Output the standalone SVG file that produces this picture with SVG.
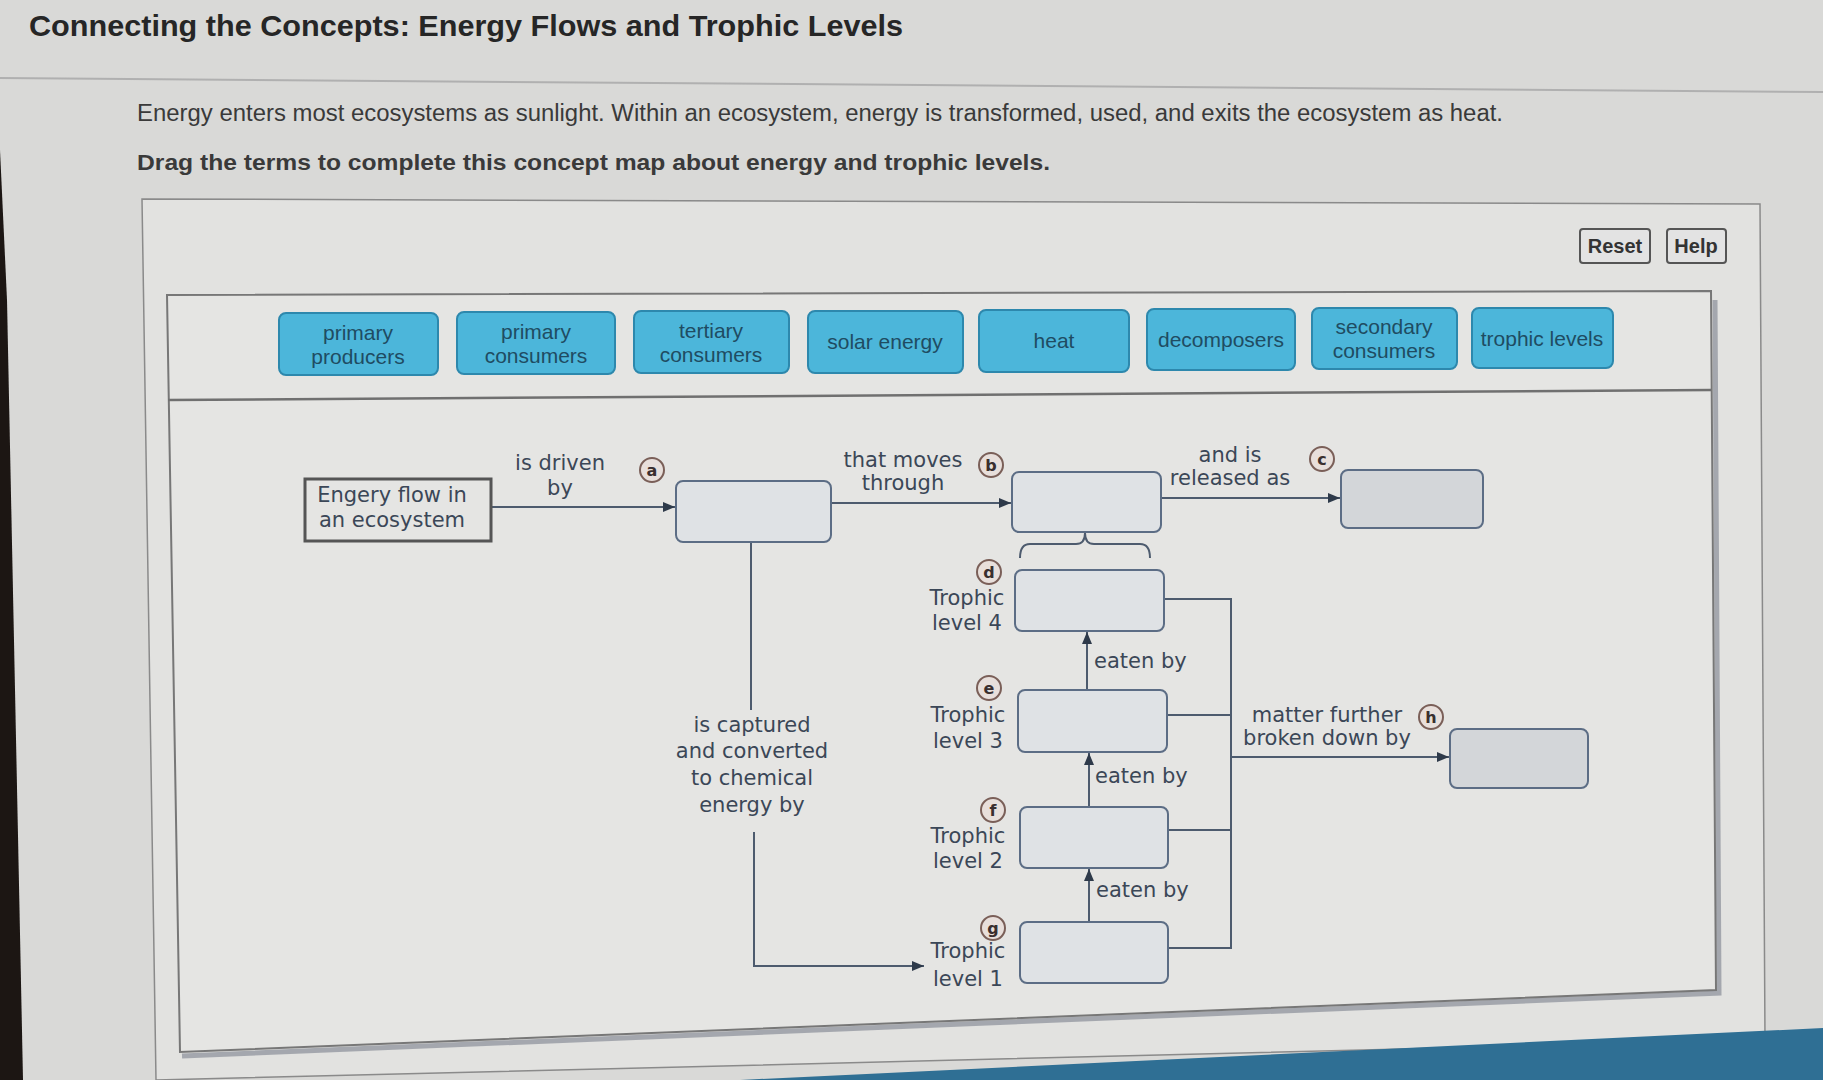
<svg xmlns="http://www.w3.org/2000/svg" width="1823" height="1080" viewBox="0 0 1823 1080">
<defs>
<marker id="arr" viewBox="0 0 12 10" refX="12" refY="5" markerWidth="12" markerHeight="10" markerUnits="userSpaceOnUse" orient="auto"><path d="M0,0 L12,5 L0,10 Z" fill="#2e3a4a"/></marker>
<style>
.title{font-family:"Liberation Sans",Arial,sans-serif;font-weight:bold;font-size:30px;fill:#262626}
.para{font-family:"Liberation Sans",Arial,sans-serif;font-size:23px;fill:#3a3a3a}
.drag{font-family:"Liberation Sans",Arial,sans-serif;font-weight:bold;font-size:22px;fill:#3a3a3a}
.tile rect{fill:#4cb6da;stroke:#2d88ad;stroke-width:2}
.tile text{font-family:"Liberation Sans",Arial,sans-serif;font-size:21px;fill:#1f4c62;text-anchor:middle}
.drop{fill:#dfe2e5;stroke:#5c6d85;stroke-width:2}
.drop2{fill:#d3d6d9;stroke:#5c6d85;stroke-width:2}
.lbl{font-family:"DejaVu Sans",Verdana,sans-serif;font-size:21px;fill:#3b4757;text-anchor:middle}
.lbs{font-family:"DejaVu Sans",Verdana,sans-serif;font-size:21px;fill:#3b4757}
.conn{stroke:#4d5b6e;stroke-width:2;fill:none}
.badge circle{fill:#e8dfdb;stroke:#7a5f58;stroke-width:2}
.badge text{font-family:"DejaVu Sans",sans-serif;font-size:16px;font-weight:bold;fill:#3a2f2f;text-anchor:middle}
.btn rect{fill:#e3e3e3;stroke:#555;stroke-width:2}
.btn text{font-family:"Liberation Sans",Arial,sans-serif;font-weight:bold;font-size:20px;fill:#333;text-anchor:middle}
</style>
</defs>
<rect x="0" y="0" width="1823" height="1080" fill="#d9d9d7"/>
<polygon points="0,150 7,300 23,1080 0,1080" fill="#1c1613"/>
<path d="M0,78 L1823,92" stroke="#b0b0b0" stroke-width="2"/>
<text class="title" x="29" y="36" textLength="874" lengthAdjust="spacingAndGlyphs">Connecting the Concepts: Energy Flows and Trophic Levels</text>
<text class="para" x="137" y="121" textLength="1366" lengthAdjust="spacingAndGlyphs">Energy enters most ecosystems as sunlight. Within an ecosystem, energy is transformed, used, and exits the ecosystem as heat.</text>
<text class="drag" x="137" y="170" textLength="913" lengthAdjust="spacingAndGlyphs">Drag the terms to complete this concept map about energy and trophic levels.</text>

<polygon points="142,199 1760,204 1765,1040 156,1080" fill="#e2e2e0" stroke="#8a8a8a" stroke-width="1.5"/>
<g id="reset" class="btn"><rect x="1580" y="229" width="70" height="34" rx="3"/><text x="1615" y="253">Reset</text></g>
<g id="help" class="btn"><rect x="1667" y="229" width="59" height="34" rx="3"/><text x="1696" y="253">Help</text></g>

<path d="M1715,300 L1719,993 L182,1056" stroke="#8a8f98" stroke-width="5" fill="none" opacity="0.7"/>
<polygon points="167,295 1711,291 1716,990 180,1052" fill="#e5e5e3" stroke="#777" stroke-width="2"/>
<path d="M168,400 L1711,390" stroke="#707070" stroke-width="2.5"/>

<g id="tiles">
<g id="tile-primary-producers" class="tile"><rect x="279" y="313" width="159" height="62" rx="7"/><text x="358" y="340">primary</text><text x="358" y="364">producers</text></g>
<g id="tile-primary-consumers" class="tile"><rect x="457" y="312" width="158" height="62" rx="7"/><text x="536" y="339">primary</text><text x="536" y="363">consumers</text></g>
<g id="tile-tertiary-consumers" class="tile"><rect x="634" y="311" width="155" height="62" rx="7"/><text x="711" y="338">tertiary</text><text x="711" y="362">consumers</text></g>
<g id="tile-solar-energy" class="tile"><rect x="808" y="311" width="155" height="62" rx="7"/><text x="885" y="349">solar energy</text></g>
<g id="tile-heat" class="tile"><rect x="979" y="310" width="150" height="62" rx="7"/><text x="1054" y="348">heat</text></g>
<g id="tile-decomposers" class="tile"><rect x="1147" y="309" width="148" height="61" rx="7"/><text x="1221" y="347">decomposers</text></g>
<g id="tile-secondary-consumers" class="tile"><rect x="1312" y="308" width="145" height="61" rx="7"/><text x="1384" y="334">secondary</text><text x="1384" y="358">consumers</text></g>
<g id="tile-trophic-levels" class="tile"><rect x="1472" y="308" width="141" height="60" rx="7"/><text x="1542" y="346">trophic levels</text></g>
</g>

<g id="connectors">
<path class="conn" d="M491,507 L675,507" marker-end="url(#arr)"/>
<path class="conn" d="M831,503 L1011,503" marker-end="url(#arr)"/>
<path class="conn" d="M1161,498 L1340,498" marker-end="url(#arr)"/>
<path class="conn" d="M751,542 L751,710"/>
<path class="conn" d="M754,832 L754,966 L924,966" marker-end="url(#arr)"/>
<path class="conn" d="M1087,690 L1087,632" marker-end="url(#arr)"/>
<path class="conn" d="M1089,922 L1089,869" marker-end="url(#arr)"/>
<path class="conn" d="M1089,807 L1089,753" marker-end="url(#arr)"/>
<path class="conn" d="M1164,599 L1231,599 L1231,948 L1168,948"/>
<path class="conn" d="M1167,715 L1231,715"/>
<path class="conn" d="M1168,830 L1231,830"/>
<path class="conn" d="M1231,757 L1449,757" marker-end="url(#arr)"/>
<path class="conn" d="M1020,558 Q1020,544 1030,544 L1076,544 Q1085,544 1085,533 Q1085,544 1094,544 L1140,544 Q1150,544 1150,558"/>
</g>

<g id="start">
<rect x="305" y="479" width="186" height="62" fill="none" stroke="#555" stroke-width="3"/>
<text class="lbl" x="392" y="502">Engery flow in</text><text class="lbl" x="392" y="527">an ecosystem</text>
</g>
<g id="label-driven"><text class="lbl" x="560" y="470">is driven</text><text class="lbl" x="560" y="495">by</text></g>
<g id="label-moves"><text class="lbl" x="903" y="467">that moves</text><text class="lbl" x="903" y="490">through</text></g>
<g id="label-released"><text class="lbl" x="1230" y="462">and is</text><text class="lbl" x="1230" y="485">released as</text></g>
<g id="label-captured"><text class="lbl" x="752" y="732">is captured</text><text class="lbl" x="752" y="758">and converted</text><text class="lbl" x="752" y="785">to chemical</text><text class="lbl" x="752" y="812">energy by</text></g>
<g id="label-matter"><text class="lbl" x="1327" y="722">matter further</text><text class="lbl" x="1327" y="745">broken down by</text></g>
<g id="label-eaten"><text class="lbs" x="1094" y="668">eaten by</text><text class="lbs" x="1095" y="783">eaten by</text><text class="lbs" x="1096" y="897">eaten by</text></g>

<g id="node-a"><rect class="drop" x="676" y="481" width="155" height="61" rx="7"/><g class="badge"><circle cx="652" cy="470" r="12"/><text x="652" y="476">a</text></g></g>
<g id="node-b"><rect class="drop" x="1012" y="472" width="149" height="60" rx="7"/><g class="badge"><circle cx="991" cy="465" r="12"/><text x="991" y="471">b</text></g></g>
<g id="node-c"><rect class="drop2" x="1341" y="470" width="142" height="58" rx="7"/><g class="badge"><circle cx="1322" cy="459" r="12"/><text x="1322" y="465">c</text></g></g>
<g id="node-d"><rect class="drop" x="1015" y="570" width="149" height="61" rx="7"/><g class="badge"><circle cx="989" cy="572" r="12"/><text x="989" y="578">d</text></g><text class="lbl" x="967" y="605">Trophic</text><text class="lbl" x="967" y="630">level 4</text></g>
<g id="node-e"><rect class="drop" x="1018" y="690" width="149" height="62" rx="7"/><g class="badge"><circle cx="989" cy="688" r="12"/><text x="989" y="694">e</text></g><text class="lbl" x="968" y="722">Trophic</text><text class="lbl" x="968" y="748">level 3</text></g>
<g id="node-f"><rect class="drop" x="1020" y="807" width="148" height="61" rx="7"/><g class="badge"><circle cx="993" cy="810" r="12"/><text x="993" y="816">f</text></g><text class="lbl" x="968" y="843">Trophic</text><text class="lbl" x="968" y="868">level 2</text></g>
<g id="node-g"><rect class="drop" x="1020" y="922" width="148" height="61" rx="7"/><g class="badge"><circle cx="993" cy="928" r="12"/><text x="993" y="934">g</text></g><text class="lbl" x="968" y="958">Trophic</text><text class="lbl" x="968" y="986">level 1</text></g>
<g id="node-h"><rect class="drop2" x="1450" y="729" width="138" height="59" rx="7"/><g class="badge"><circle cx="1431" cy="717" r="12"/><text x="1431" y="723">h</text></g></g>

<polygon points="740,1080 1823,1028 1823,1080" fill="#2f6f94"/>
</svg>
